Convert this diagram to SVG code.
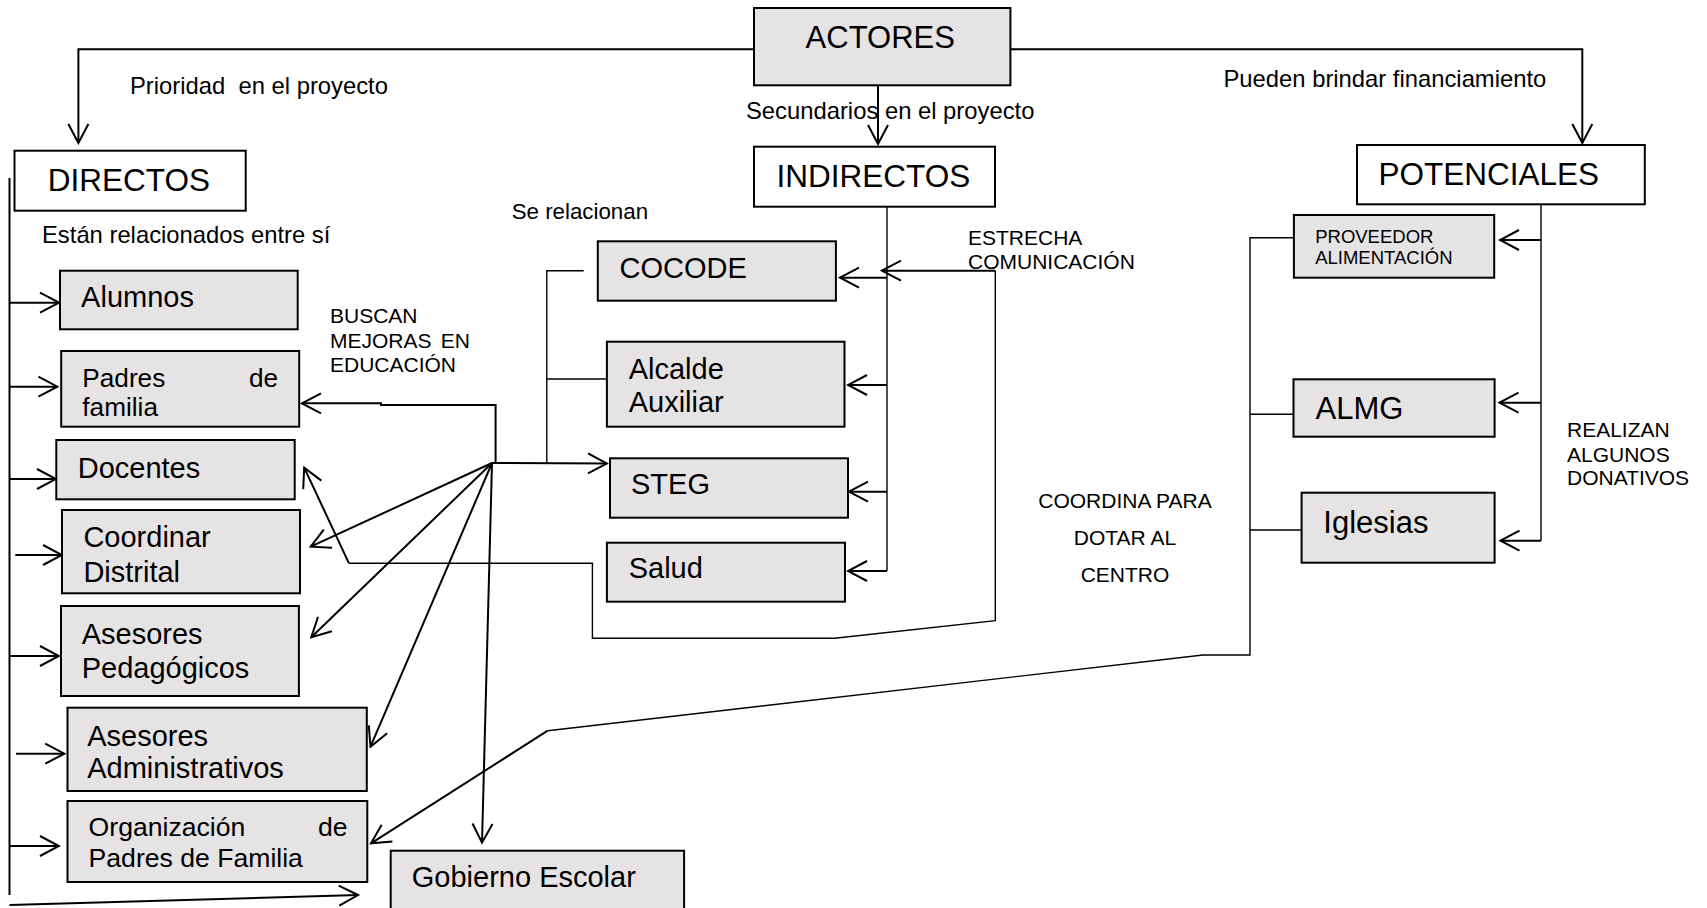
<svg xmlns="http://www.w3.org/2000/svg" width="1707" height="908" viewBox="0 0 1707 908">
<style>
text{font-family:"Liberation Sans",Arial,sans-serif;fill:#000}
.g{fill:#E5E3E4;stroke:#000;stroke-width:2}
.w{fill:#fff;stroke:#000;stroke-width:2}
.c{fill:none;stroke:#000;stroke-width:2}
.t{fill:none;stroke:#000;stroke-width:1.4}
.h{font-size:31.5px}
.b{font-size:29px}
.l{font-size:23.8px}
.s{font-size:21px}
</style>
<defs>
<marker id="a" markerUnits="userSpaceOnUse" markerWidth="24" markerHeight="24" viewBox="-22 -12 24 24" refX="0" refY="0" orient="auto">
<path d="M-19,-10 L0,0 L-19,10" fill="none" stroke="#000" stroke-width="2"/>
</marker>
</defs>
<rect width="1707" height="908" fill="#fff"/>
<g id="connectors">
<polyline class="c" points="754,49.3 78.4,49.3 78.4,143" marker-end="url(#a)"/>
<polyline class="c" points="1010.4,49.3 1582.3,49.3 1582.3,143" marker-end="url(#a)"/>
<line class="c" x1="878" y1="85.3" x2="878" y2="144" marker-end="url(#a)"/>
<line class="c" x1="9.5" y1="178" x2="9.5" y2="895"/>
<line class="c" x1="9.5" y1="302.7" x2="59" y2="302.7" marker-end="url(#a)"/>
<line class="c" x1="9.5" y1="386.7" x2="57.4" y2="386.7" marker-end="url(#a)"/>
<line class="c" x1="9.5" y1="479" x2="56" y2="479" marker-end="url(#a)"/>
<line class="c" x1="15.3" y1="555" x2="62" y2="555" marker-end="url(#a)"/>
<line class="c" x1="9.5" y1="656" x2="59" y2="656" marker-end="url(#a)"/>
<line class="c" x1="16" y1="753.7" x2="64.3" y2="753.7" marker-end="url(#a)"/>
<line class="c" x1="9.5" y1="846" x2="59" y2="846" marker-end="url(#a)"/>
<line class="c" x1="9.5" y1="905" x2="358" y2="895" marker-end="url(#a)"/>
<polyline class="c" points="495.6,463.3 495.6,405 381,405 381,403.3 302,403.3" marker-end="url(#a)"/>
<line class="c" x1="492" y1="463" x2="310.7" y2="546.7" marker-end="url(#a)"/>
<line class="c" x1="492" y1="463" x2="311.3" y2="637.3" marker-end="url(#a)"/>
<line class="c" x1="492" y1="463" x2="370.5" y2="746.7" marker-end="url(#a)"/>
<line class="c" x1="492" y1="463" x2="482" y2="842.7" marker-end="url(#a)"/>
<line class="c" x1="492" y1="463" x2="607" y2="463.5" stroke-width="3.5" marker-end="url(#a)"/>
<polyline class="t" points="583.7,270.7 546.8,270.7 546.8,463"/>
<line class="t" x1="546.8" y1="379" x2="607" y2="379"/>
<line class="t" x1="887" y1="206.7" x2="887" y2="571"/>
<line class="c" x1="887" y1="277.7" x2="840" y2="277.7" marker-end="url(#a)"/>
<line class="c" x1="887" y1="385" x2="848" y2="385" marker-end="url(#a)"/>
<line class="c" x1="887" y1="491.7" x2="849" y2="491.7" marker-end="url(#a)"/>
<line class="c" x1="887" y1="571" x2="848" y2="571" marker-end="url(#a)"/>
<line class="c" x1="995.3" y1="270.7" x2="882" y2="270.7" marker-end="url(#a)"/>
<polyline class="t" points="995.3,270.7 995.3,620.7 834.6,638.3 592.4,638.3 592.4,563.3 349,563.3"/>
<line class="c" x1="349" y1="563.3" x2="304.2" y2="467.7" marker-end="url(#a)"/>
<line class="t" x1="1541" y1="204.3" x2="1541" y2="540.7"/>
<line class="c" x1="1541" y1="240" x2="1500" y2="240" marker-end="url(#a)"/>
<line class="c" x1="1541" y1="402.7" x2="1499.5" y2="402.7" marker-end="url(#a)"/>
<line class="c" x1="1541" y1="540.7" x2="1500.5" y2="540.7" marker-end="url(#a)"/>
<polyline class="t" points="1294,237.7 1250,237.7 1250,655 1203,655 547.7,730.7"/>
<line class="c" x1="547.7" y1="730.7" x2="371" y2="843.3" marker-end="url(#a)"/>
<line class="t" x1="1250" y1="414.3" x2="1293.5" y2="414.3"/>
<line class="t" x1="1250" y1="530" x2="1301.6" y2="530"/>
</g>
<g id="labels">
<text class="l" x="130" y="94" xml:space="preserve">Prioridad  en el proyecto</text>
<text class="l" x="746" y="119.3">Secundarios en el proyecto</text>
<text class="l" x="1223.5" y="87.3">Pueden brindar financiamiento</text>
<text class="l" x="42" y="243.3">Están relacionados entre sí</text>
<text class="l" x="511.7" y="219" style="font-size:22.3px">Se relacionan</text>
<text class="s" x="968" y="245">ESTRECHA</text>
<text class="s" x="968" y="269.3">COMUNICACIÓN</text>
<text class="s" x="330" y="323.3">BUSCAN</text>
<text class="s" x="330" y="347.7">MEJORAS</text>
<text class="s" x="470" y="347.7" text-anchor="end">EN</text>
<text class="s" x="330" y="372.3">EDUCACIÓN</text>
<text class="s" x="1125" y="508.3" text-anchor="middle">COORDINA PARA</text>
<text class="s" x="1125" y="545" text-anchor="middle">DOTAR AL</text>
<text class="s" x="1125" y="581.7" text-anchor="middle">CENTRO</text>
<text class="s" x="1567" y="436.7">REALIZAN</text>
<text class="s" x="1567" y="461.7">ALGUNOS</text>
<text class="s" x="1567" y="485">DONATIVOS</text>
</g>
<g id="actores"><rect class="g" x="754" y="8" width="256.4" height="77.3"/><text class="h" x="805.6" y="48.3" style="font-size:31px">ACTORES</text></g>
<g id="directos"><rect class="w" x="14.5" y="150.7" width="231.2" height="60"/><text class="h" x="47.8" y="190.7">DIRECTOS</text></g>
<g id="indirectos"><rect class="w" x="754" y="146.7" width="241" height="60"/><text class="h" x="776.5" y="187.3">INDIRECTOS</text></g>
<g id="potenciales"><rect class="w" x="1357" y="145" width="287.8" height="59.3"/><text class="h" x="1378.4" y="185">POTENCIALES</text></g>
<g id="alumnos"><rect class="g" x="60" y="270.7" width="237.7" height="58.6"/><text class="b" x="81.1" y="306.7">Alumnos</text></g>
<g id="padres"><rect class="g" x="61.2" y="351" width="238" height="75.7"/><text class="b" x="82.3" y="386.7" style="font-size:26.2px">Padres</text><text class="b" x="278.2" y="386.7" text-anchor="end" style="font-size:26.2px">de</text><text class="b" x="82.3" y="416" style="font-size:26.2px">familia</text></g>
<g id="docentes"><rect class="g" x="56.3" y="440" width="238.4" height="59.3"/><text class="b" x="77.7" y="477.7">Docentes</text></g>
<g id="coordinar"><rect class="g" x="62" y="510" width="238" height="83.3"/><text class="b" x="83.4" y="547.3">Coordinar</text><text class="b" x="83.4" y="581.7">Distrital</text></g>
<g id="asesores-ped"><rect class="g" x="61" y="606" width="237.9" height="90"/><text class="b" x="81.7" y="644.3">Asesores</text><text class="b" x="81.7" y="678.3">Pedagógicos</text></g>
<g id="asesores-adm"><rect class="g" x="67.5" y="707.7" width="299.3" height="83.3"/><text class="b" x="87.2" y="745.7">Asesores</text><text class="b" x="87.2" y="777.7">Administrativos</text></g>
<g id="organizacion"><rect class="g" x="67.5" y="801" width="299.8" height="81"/><text class="b" x="88.6" y="836" style="font-size:26.6px">Organización</text><text class="b" x="347.6" y="836" text-anchor="end" style="font-size:26.6px">de</text><text class="b" x="88.6" y="866.7" style="font-size:26.6px">Padres de Familia</text></g>
<g id="gobierno"><rect class="g" x="390.7" y="850.7" width="293.4" height="70"/><text class="b" x="411.8" y="887.3">Gobierno Escolar</text></g>
<g id="cocode"><rect class="g" x="597.8" y="241.3" width="238.1" height="59.4"/><text class="b" x="619.6" y="278.3">COCODE</text></g>
<g id="alcalde"><rect class="g" x="606.9" y="341.7" width="237.6" height="85"/><text class="b" x="628.7" y="379.3">Alcalde</text><text class="b" x="628.7" y="411.7">Auxiliar</text></g>
<g id="steg"><rect class="g" x="610" y="458.3" width="238" height="59.4"/><text class="b" x="631" y="494.3">STEG</text></g>
<g id="salud"><rect class="g" x="606.9" y="542.7" width="238.1" height="59"/><text class="b" x="628.7" y="578.3">Salud</text></g>
<g id="proveedor"><rect class="g" x="1293.9" y="215" width="200.3" height="62.7"/><text x="1315.2" y="243.3" style="font-size:18.5px">PROVEEDOR</text><text x="1315.2" y="264.3" style="font-size:18.5px">ALIMENTACIÓN</text></g>
<g id="almg"><rect class="g" x="1293.5" y="379.3" width="201.1" height="57.4"/><text x="1315.6" y="419" style="font-size:31px">ALMG</text></g>
<g id="iglesias"><rect class="g" x="1301.6" y="492.7" width="193" height="70"/><text x="1323.3" y="532.7" style="font-size:31px">Iglesias</text></g>
</svg>
